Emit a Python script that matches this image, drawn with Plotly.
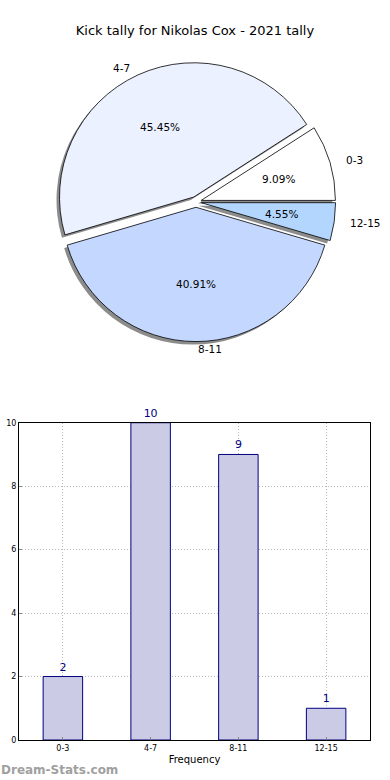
import math
import plotly.graph_objects as go

categories = ["0-3", "4-7", "8-11", "12-15"]
counts = [2, 10, 9, 1]
pie_colors = ["#ffffff", "#ebf1ff", "#c4d8ff", "#b3d6ff"]
title_text = "Kick tally for Nikolas Cox - 2021 tally"
y_ticks = [0, 2, 4, 6, 8, 10]

W, H = 390, 780
ML, MR, MT, MB = 19, 20, 0, 40
PW = W - ML - MR
PH = H - MT - MB

def px_x(x):
    return (x - ML) / PW

def px_y(y):
    return (H - MB - y) / PH

FONT = "DejaVu Sans"
PULL = 0.04
pull = [PULL] * len(counts)
total = sum(counts)
# first slice starts at 3 o'clock, going counterclockwise
rot = 90 - 360 * counts[0] / total

cx, cy = 196, 199
r_pie = 135
R = r_pie * (1 + PULL)  # half-size of the domain plotly needs for this radius
dom_x = [px_x(cx - R), px_x(cx + R)]
dom_y = [px_y(cy + R), px_y(cy - R)]
sdx, sdy = -3, 3
sh_x = [px_x(cx - R + sdx), px_x(cx + R + sdx)]
sh_y = [px_y(cy + R + sdy), px_y(cy - R + sdy)]

fig = go.Figure()

# shadow pie
fig.add_trace(go.Pie(
    labels=categories, values=counts, sort=False, direction="counterclockwise",
    rotation=rot, pull=pull, domain=dict(x=sh_x, y=sh_y),
    marker=dict(colors=["#8c8c8c"] * 4, line=dict(width=0)),
    textinfo="none", hoverinfo="skip", showlegend=False,
))
# main pie
fig.add_trace(go.Pie(
    labels=categories, values=counts, sort=False, direction="counterclockwise",
    rotation=rot, pull=pull, domain=dict(x=dom_x, y=dom_y),
    marker=dict(colors=pie_colors, line=dict(color="black", width=0.8)),
    textinfo="none", showlegend=False,
))

# slice labels (outside, 1.1 r) and percentages (inside, 0.6 r), placed like matplotlib
annotations = []
start = 0.0
for lab, v in zip(categories, counts):
    span = 360 * v / total
    mid = math.radians(start + span / 2)
    start += span
    c, s = math.cos(mid), math.sin(mid)
    ox, oy = cx + PULL * r_pie * c, cy - PULL * r_pie * s
    lx, ly = ox + 1.1 * r_pie * c, oy - 1.1 * r_pie * 0.96 * s
    annotations.append(dict(
        text=lab, xref="paper", yref="paper", x=px_x(lx), y=px_y(ly),
        xanchor="left" if c > -1e-6 else "right", yanchor="middle", showarrow=False,
        font=dict(family=FONT, size=10.5, color="black")))
    tx, ty = ox + 0.6 * r_pie * c, oy - 0.6 * r_pie * 0.95 * s
    annotations.append(dict(
        text=f"{100 * v / total:.2f}%", xref="paper", yref="paper",
        x=px_x(tx), y=px_y(ty), xanchor="center", yanchor="middle",
        showarrow=False, font=dict(family=FONT, size=10.5, color="black")))

fig.add_trace(go.Bar(
    x=categories, y=counts, width=0.45,
    marker=dict(color="#cbcbe5", line=dict(color="#000080", width=1)),
    text=[str(c) for c in counts], textposition="outside",
    textfont=dict(family=FONT, size=11, color="#000080"),
    cliponaxis=False, showlegend=False,
))

grid = dict(showgrid=True, gridcolor="#b8b8b8", griddash="1px,2px", gridwidth=1)

annotations += [
    dict(text="<b>Dream-Stats.com</b>", xref="paper", yref="paper",
         x=px_x(-1), y=px_y(770), xanchor="left", yanchor="middle",
         showarrow=False, font=dict(family=FONT, size=12, color="#a0a0a0")),
    dict(text="Kick Count", xref="paper", yref="paper",
         x=px_x(-4), y=px_y(580), xanchor="center", yanchor="middle",
         textangle=-90, showarrow=False,
         font=dict(family=FONT, size=10, color="black")),
]

fig.update_layout(
    width=W, height=H,
    margin=dict(l=ML, r=MR, t=MT, b=MB),
    paper_bgcolor="white", plot_bgcolor="white",
    font=dict(family=FONT, size=8, color="black"),
    title=dict(text=title_text, x=195 / W, xanchor="center", y=1 - 30 / H,
               yanchor="middle", font=dict(family=FONT, size=13, color="black")),
    xaxis=dict(
        domain=[0, 1], range=[-0.5, 3.5], type="category",
        showline=True, linecolor="black", linewidth=1, mirror=True,
        ticks="inside", ticklen=3, tickcolor="#888",
        tickfont=dict(family=FONT, size=8),
        title=dict(text="Frequency", font=dict(family=FONT, size=10), standoff=4),
        zeroline=False, **grid,
    ),
    yaxis=dict(
        domain=[0, px_y(421)], range=[0, 10], tickvals=y_ticks,
        showline=True, linecolor="black", linewidth=1, mirror=True,
        ticks="inside", ticklen=3, tickcolor="#888",
        tickfont=dict(family=FONT, size=8),
        zeroline=False, **grid,
    ),
    annotations=annotations,
)

# remove the browser's default 8px page margin so the figure sits at the window origin
fig.write_html("out.html", config={"displayModeBar": False},
               post_script="document.body.style.margin='0';")
